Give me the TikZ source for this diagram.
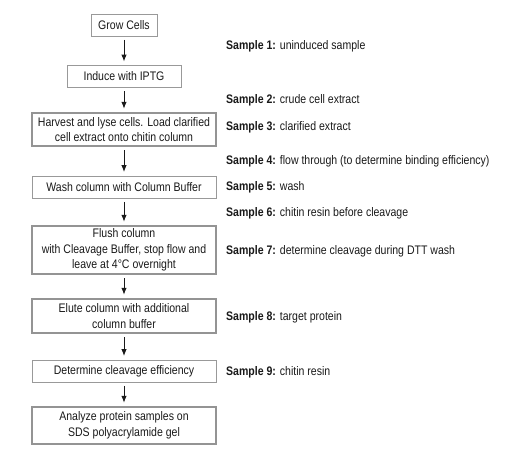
\documentclass[tikz,border=0pt]{standalone}
\usepackage{fontspec}
\setmainfont{Liberation Sans}[FakeStretch=0.85]
\usetikzlibrary{arrows.meta}
\tikzset{
  base/.style={inner sep=0pt, align=center, text=black!90, font={\fontsize{12.4pt}{15.5pt}\selectfont}},
  thinbox/.style={base, draw=black!40, line width=0.8pt},
  thickbox/.style={base, draw=black!42, line width=1.4pt},
  lab/.style={inner sep=0pt, anchor=base west, text=black!90, font={\fontsize{12.4pt}{15.5pt}\selectfont}},
  arr/.style={draw=black!90, line width=1pt, -{Latex[length=7pt,width=5.5pt]}, shorten <=3.5pt, shorten >=3.5pt}
}
\begin{document}
\begin{tikzpicture}[x=1pt,y=1pt]
\useasboundingbox (0,0) rectangle (511,-465);
\node[thinbox, minimum width=66pt, minimum height=22pt] (grow) at (124,-25) {Grow Cells};
\node[thinbox, minimum width=114pt, minimum height=22pt] (induce) at (124,-76.5) {Induce with IPTG};
\node[thickbox, minimum width=184pt, minimum height=33pt] (harvest) at (124,-129.5) {Harvest and lyse cells. Load clarified\\cell extract onto chitin column};
\node[thinbox, minimum width=184pt, minimum height=22pt] (wash) at (124,-187) {Wash column with Column Buffer};
\node[thickbox, minimum width=184pt, minimum height=48pt] (flush) at (124,-250) {Flush column\\with Cleavage Buffer, stop flow and\\leave at 4°C overnight};
\node[thickbox, minimum width=184pt, minimum height=34pt] (elute) at (124,-316) {Elute column with additional\\column buffer};
\node[thinbox, minimum width=184pt, minimum height=22pt] (determine) at (124,-371) {Determine cleavage efficiency};
\node[thickbox, minimum width=184pt, minimum height=37pt] (analyze) at (124,-425.5) {Analyze protein samples on\\SDS polyacrylamide gel};
\draw[arr] (grow) -- (induce);
\draw[arr] (induce) -- (harvest);
\draw[arr] (harvest) -- (wash);
\draw[arr] (wash) -- (flush);
\draw[arr] (flush) -- (elute);
\draw[arr] (elute) -- (determine);
\draw[arr] (determine) -- (analyze);
\node[lab] (s1) at (226,-50) {\textbf{Sample 1:} uninduced sample};
\node[lab] (s2) at (226,-104) {\textbf{Sample 2:} crude cell extract};
\node[lab] (s3) at (226,-131) {\textbf{Sample 3:} clarified extract};
\node[lab] (s4) at (226,-165) {\textbf{Sample 4:} flow through (to determine binding efficiency)};
\node[lab] (s5) at (226,-191) {\textbf{Sample 5:} wash};
\node[lab] (s6) at (226,-216) {\textbf{Sample 6:} chitin resin before cleavage};
\node[lab] (s7) at (226,-254) {\textbf{Sample 7:} determine cleavage during DTT wash};
\node[lab] (s8) at (226,-320) {\textbf{Sample 8:} target protein};
\node[lab] (s9) at (226,-375) {\textbf{Sample 9:} chitin resin};
\end{tikzpicture}
\end{document}
